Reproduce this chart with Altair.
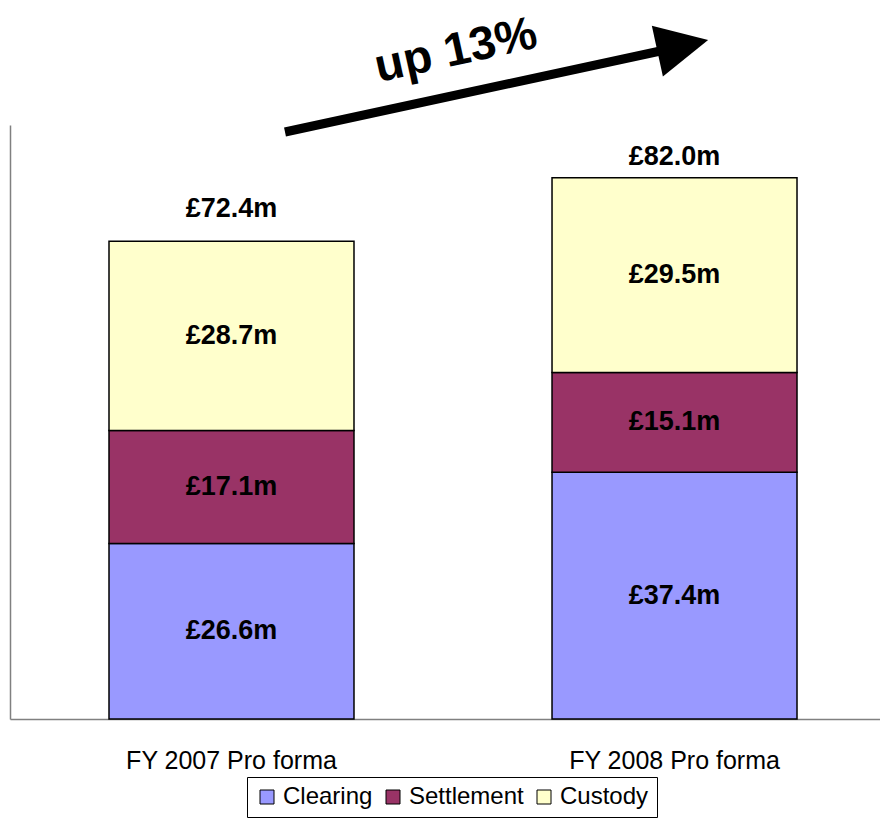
import altair as alt
import pandas as pd

categories = ["FY 2007 Pro forma", "FY 2008 Pro forma"]
series = ["Clearing", "Settlement", "Custody"]
clearing = [26.6, 37.4]
settlement = [17.1, 15.1]
custody = [28.7, 29.5]
totals = [72.4, 82.0]
colors = ["#9999FF", "#993366", "#FFFFCC"]
growth_text = "up 13%"

rows = []
for i, cat in enumerate(categories):
    base = 0.0
    for j, (name, vals) in enumerate(zip(series, [clearing, settlement, custody])):
        v = vals[i]
        rows.append({"category": cat, "series": name, "value": v, "order": j,
                     "mid": base + v / 2, "label": f"£{v:.1f}m"})
        base += v
df = pd.DataFrame(rows)
tot = pd.DataFrame({"category": categories, "total": totals,
                    "label": [f"£{t:.1f}m" for t in totals]})

FONT = "Liberation Sans"

xscale = alt.Scale(domain=categories, paddingInner=0.447, paddingOuter=0.2054, align=0.544)
yscale = alt.Scale(domain=[0, 90])

bars = alt.Chart(df).mark_bar(stroke="black", strokeWidth=1.5, opacity=1).encode(
    x=alt.X("category:N", scale=xscale, sort=categories,
            axis=alt.Axis(title=None, labelAngle=0, labelFontSize=25, labelFont=FONT,
                          labelColor="black", ticks=False, domainColor="#808080",
                          domainWidth=1.5, labelPadding=29, labelLimit=0)),
    y=alt.Y("value:Q", stack="zero", scale=yscale,
            axis=alt.Axis(title=None, labels=False, ticks=False, grid=False,
                          domainColor="#808080", domainWidth=1.5)),
    color=alt.Color("series:N", scale=alt.Scale(domain=series, range=colors),
                    legend=alt.Legend(title=None, orient="none", legendX=237, legendY=652,
                                      direction="horizontal", columns=3,
                                      symbolType="square", symbolSize=196,
                                      symbolStrokeColor="black", symbolStrokeWidth=1,
                                      symbolOpacity=1,
                                      labelFontSize=24, labelFont=FONT, labelColor="black",
                                      labelOffset=4, columnPadding=8, padding=8,
                                      strokeColor="black", fillColor="white")),
    order=alt.Order("order:Q"),
)

seg_text = alt.Chart(df).mark_text(font=FONT, fontSize=27, fontWeight="bold",
                                   color="black", baseline="middle").encode(
    x=alt.X("category:N", scale=xscale, sort=categories),
    y=alt.Y("mid:Q", scale=yscale),
    text="label:N",
)

tot1 = alt.Chart(tot).transform_filter(alt.datum.category == categories[0]).mark_text(
    font=FONT, fontSize=27, fontWeight="bold", color="black",
    baseline="alphabetic", dy=-24).encode(
    x=alt.X("category:N", scale=xscale, sort=categories),
    y=alt.Y("total:Q", scale=yscale),
    text="label:N",
)
tot2 = alt.Chart(tot).transform_filter(alt.datum.category == categories[1]).mark_text(
    font=FONT, fontSize=27, fontWeight="bold", color="black",
    baseline="alphabetic", dy=-13).encode(
    x=alt.X("category:N", scale=xscale, sort=categories),
    y=alt.Y("total:Q", scale=yscale),
    text="label:N",
)

ann = pd.DataFrame({"t": [growth_text]})
shaft = alt.Chart(ann).mark_rule(color="black", strokeWidth=9).encode(
    x=alt.value(275), y=alt.value(7), x2=alt.value(655), y2=alt.value(-75))
head = alt.Chart(ann).mark_point(shape="M-1,-1L1,0L-1,1Z", filled=True, fill="black",
                                 opacity=1, size=2700, angle=347.7, strokeWidth=0).encode(
    x=alt.value(672.75), y=alt.value(-79.5))
label = alt.Chart(ann).mark_text(font=FONT, fontSize=47, fontWeight="bold", color="black",
                                 angle=347.7, align="center", baseline="middle").encode(
    x=alt.value(446), y=alt.value(-74), text="t:N")

chart = alt.layer(bars, seg_text, tot1, tot2, shaft, head, label).properties(
    width=870, height=594,
    padding={"left": 2, "top": 117, "right": 0, "bottom": 101},
    autosize=alt.AutoSizeParams(type="none"),
    background="white",
).configure_view(stroke=None)

chart.save("out.html", embed_options={"renderer": "svg", "actions": False})
